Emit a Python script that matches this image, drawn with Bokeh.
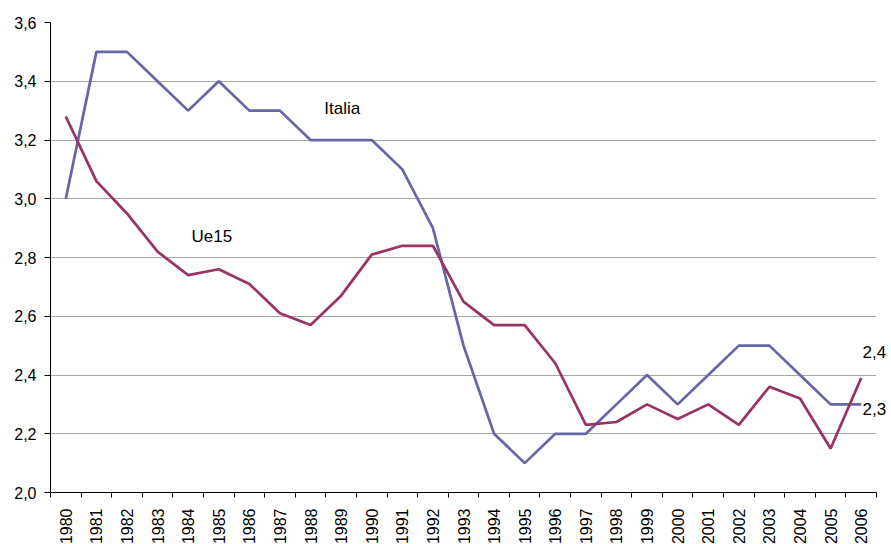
from bokeh.plotting import figure
from bokeh.models import FixedTicker, Label, Range1d, LinearAxis
from bokeh.embed import file_html
from bokeh.resources import INLINE

years = [str(y) for y in range(1980, 2007)]
italia = [3.0, 3.5, 3.5, 3.4, 3.3, 3.4, 3.3, 3.3, 3.2, 3.2, 3.2, 3.1, 2.9, 2.5,
          2.2, 2.1, 2.2, 2.2, 2.3, 2.4, 2.3, 2.4, 2.5, 2.5, 2.4, 2.3, 2.3]
ue15 = [3.28, 3.06, 2.95, 2.82, 2.74, 2.76, 2.71, 2.61, 2.57, 2.67, 2.81, 2.84, 2.84, 2.65,
        2.57, 2.57, 2.44, 2.23, 2.24, 2.30, 2.25, 2.30, 2.23, 2.36, 2.32, 2.15, 2.39]
y_ticks = [2.0, 2.2, 2.4, 2.6, 2.8, 3.0, 3.2, 3.4, 3.6]
y_tick_labels = ["2,0", "2,2", "2,4", "2,6", "2,8", "3,0", "3,2", "3,4", "3,6"]
end_labels = ["2,4", "2,3"]
end_label_pos = [2.477, 2.283]

FONT = "Liberation Sans"
ITALIA_COL = "#6767A8"
UE_COL = "#993366"

xs = [i + 0.5 for i in range(len(years))]

p = figure(frame_width=826, frame_height=470, output_backend="svg", toolbar_location=None,
           x_range=Range1d(0, len(years)), y_range=Range1d(2.0, 3.6),
           min_border_left=50, min_border_top=22, min_border_right=13, min_border_bottom=10)
p.outline_line_color = None
p.background_fill_color = "white"
p.border_fill_color = "white"

p.line(xs, italia, line_color=ITALIA_COL, line_width=2.75)
p.line(xs, ue15, line_color=UE_COL, line_width=2.75)

# x axis
p.xaxis.ticker = FixedTicker(ticks=xs, minor_ticks=list(range(len(years) + 1)))
p.xaxis.major_label_overrides = {x: y for x, y in zip(xs, years)}
p.xaxis.major_label_orientation = 1.5707963
p.xaxis.major_tick_line_alpha = 0
p.xaxis.major_tick_out = 6
p.xaxis.major_tick_in = 0
p.xaxis.minor_tick_out = 5
p.xaxis.minor_tick_in = 0
p.xaxis.minor_tick_line_color = "black"
p.xaxis.major_label_standoff = 10
p.xaxis.major_label_text_font = FONT
p.xaxis.major_label_text_font_size = "16px"
p.xaxis.major_label_text_color = "black"
p.xaxis.axis_line_color = "black"

# y axis
p.yaxis.ticker = FixedTicker(ticks=y_ticks, minor_ticks=[])
p.yaxis.major_label_overrides = {v: t for v, t in zip(y_ticks, y_tick_labels)}
p.yaxis.major_tick_out = 6
p.yaxis.major_tick_in = 0
p.yaxis.major_tick_line_color = "black"
p.yaxis.major_label_standoff = 8
p.yaxis.major_label_text_font = FONT
p.yaxis.major_label_text_font_size = "16px"
p.yaxis.major_label_text_color = "black"
p.yaxis.axis_line_color = "black"

# right-hand end value labels
ra = LinearAxis(ticker=FixedTicker(ticks=end_label_pos, minor_ticks=[]),
                major_label_overrides={v: t for v, t in zip(end_label_pos, end_labels)},
                axis_line_color=None, major_tick_line_color=None,
                major_tick_out=0, major_tick_in=0, major_label_standoff=-14,
                major_label_text_font=FONT, major_label_text_font_size="17px",
                major_label_text_color="black")
p.add_layout(ra, "right")

p.xgrid.grid_line_color = None
p.ygrid.grid_line_color = "#A6A6A6"
p.ygrid.grid_line_width = 1

def add_label(x, y, text):
    p.add_layout(Label(x=x, y=y, text=text, text_font=FONT, text_font_size="17px",
                       text_color="black", text_align="left", text_baseline="middle"))

add_label(8.95, 3.307, "Italia")
add_label(4.61, 2.87, "Ue15")

open("out.html", "w").write(file_html(p, INLINE))
